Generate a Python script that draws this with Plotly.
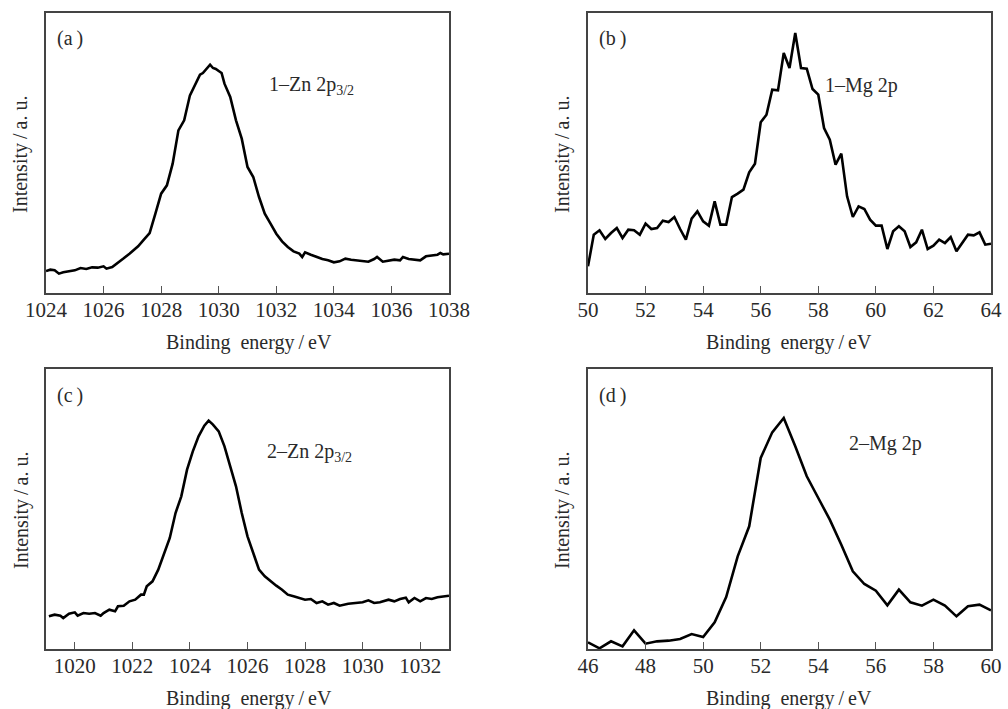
import plotly.graph_objects as go

# ---------------- data ----------------
energy_a = [1024.0, 1024.15, 1024.3, 1024.45, 1024.6, 1024.8, 1025.0, 1025.2, 1025.4, 1025.6, 1025.8,
            1026.0, 1026.1, 1026.3, 1026.5, 1026.7, 1026.9, 1027.0, 1027.2, 1027.4, 1027.6, 1027.8,
            1028.0, 1028.2, 1028.4, 1028.6, 1028.8, 1029.0, 1029.2, 1029.35, 1029.45, 1029.55, 1029.7,
            1029.8, 1029.9, 1030.0, 1030.1, 1030.2, 1030.4, 1030.6, 1030.8, 1031.0, 1031.2, 1031.4,
            1031.6, 1031.8, 1032.0, 1032.2, 1032.4, 1032.6, 1032.8, 1032.9, 1033.0, 1033.2, 1033.4,
            1033.6, 1033.8, 1034.0, 1034.2, 1034.4, 1034.6, 1034.8, 1035.0, 1035.2, 1035.4, 1035.5,
            1035.7, 1035.9, 1036.1, 1036.3, 1036.4, 1036.6, 1036.8, 1037.0, 1037.2, 1037.4, 1037.6,
            1037.7, 1037.8, 1038.0]
intensity_a = [66, 70, 68, 58, 62, 66, 68, 75, 72, 77, 76,
               80, 73, 78, 90, 104, 118, 125, 140, 160, 180, 238,
               298, 323, 388, 488, 518, 593, 628, 655, 660, 670, 685,
               675, 672, 666, 660, 628, 588, 518, 463, 378, 348, 288,
               238, 208, 178, 155, 138, 125, 118, 108, 122, 115, 108,
               102, 98, 92, 95, 103, 100, 98, 96, 94, 102, 108,
               94, 96, 100, 98, 108, 102, 100, 98, 110, 112, 115,
               120, 116, 118]

energy_b = [50.0, 50.2, 50.4, 50.6, 50.8, 51.0, 51.2, 51.4, 51.6, 51.8, 52.0, 52.2, 52.4, 52.6, 52.8,
            53.0, 53.2, 53.4, 53.6, 53.8, 54.0, 54.2, 54.4, 54.6, 54.8, 55.0, 55.2, 55.4, 55.6, 55.8,
            56.0, 56.2, 56.4, 56.6, 56.8, 57.0, 57.2, 57.4, 57.6, 57.8, 58.0, 58.2, 58.4, 58.6, 58.8,
            59.0, 59.2, 59.4, 59.6, 59.8, 60.0, 60.2, 60.4, 60.6, 60.8, 61.0, 61.2, 61.4, 61.6, 61.8,
            62.0, 62.2, 62.4, 62.6, 62.8, 63.0, 63.2, 63.4, 63.6, 63.8, 64.0]
intensity_b = [80, 175, 188, 162, 180, 195, 165, 190, 188, 175, 208, 192, 195, 217, 213,
               228, 192, 160, 223, 245, 215, 202, 275, 205, 205, 288, 298, 310, 362, 388,
               512, 535, 610, 608, 720, 675, 780, 675, 673, 612, 595, 495, 460, 385, 418,
               290, 228, 260, 252, 220, 202, 202, 132, 185, 200, 185, 138, 152, 190, 132,
               142, 160, 150, 168, 125, 152, 175, 173, 182, 145, 148]

energy_c = [1019.1, 1019.3, 1019.5, 1019.6, 1019.8, 1020.0, 1020.1, 1020.3, 1020.5, 1020.7, 1020.9,
            1021.0, 1021.2, 1021.4, 1021.5, 1021.7, 1021.9, 1022.1, 1022.3, 1022.4, 1022.5, 1022.7,
            1022.9, 1023.1, 1023.3, 1023.5, 1023.7, 1023.9, 1024.1, 1024.3, 1024.5, 1024.65, 1024.8,
            1025.0, 1025.2, 1025.4, 1025.6, 1025.8, 1026.0, 1026.2, 1026.4, 1026.6, 1026.8, 1027.0,
            1027.2, 1027.4, 1027.6, 1027.8, 1028.0, 1028.2, 1028.4, 1028.6, 1028.8, 1029.0, 1029.2,
            1029.5, 1029.8, 1030.0, 1030.2, 1030.4, 1030.6, 1030.9, 1031.1, 1031.3, 1031.5, 1031.6,
            1031.8, 1032.0, 1032.2, 1032.4, 1032.6, 1032.8, 1033.0]
intensity_c = [98, 103, 100, 93, 106, 110, 100, 108, 106, 108, 100,
               108, 118, 113, 128, 130, 143, 148, 163, 163, 188, 203,
               238, 288, 333, 408, 458, 538, 593, 638, 670, 685, 673,
               653, 608, 548, 488, 408, 338, 288, 238, 218, 203, 190,
               178, 163, 158, 153, 148, 150, 138, 143, 133, 138, 130,
               136, 138, 140, 146, 138, 140, 148, 143, 150, 154, 140,
               153, 143, 153, 150, 155, 158, 160]

energy_d = [46.0, 46.4, 46.8, 47.2, 47.6, 48.0, 48.4, 48.8, 49.2, 49.6, 50.0, 50.4, 50.8, 51.2,
            51.6, 52.0, 52.4, 52.8, 53.2, 53.6, 54.0, 54.4, 54.8, 55.2, 55.6, 56.0, 56.4, 56.8,
            57.2, 57.6, 58.0, 58.4, 58.8, 59.2, 59.6, 60.0]
intensity_d = [20, 2, 23, 8, 56, 16, 23, 25, 30, 45, 36, 80, 156, 278,
               368, 573, 650, 693, 608, 518, 453, 388, 313, 233, 195, 175, 131, 178,
               140, 130, 148, 130, 98, 128, 133, 116]

xticks_a = [1024, 1026, 1028, 1030, 1032, 1034, 1036, 1038]
xticks_b = [50, 52, 54, 56, 58, 60, 62, 64]
xticks_c = [1020, 1022, 1024, 1026, 1028, 1030, 1032]
xticks_d = [46, 48, 50, 52, 54, 56, 58, 60]

panel_tags = ["(a\u2009)", "(b\u2009)", "(c\u2009)", "(d\u2009)"]
peak_labels = ["1–Zn 2p<sub>3/2</sub>", "1–Mg 2p", "2–Zn 2p<sub>3/2</sub>", "2–Mg 2p"]
x_title = "Binding\u00a0\u00a0energy\u2009/\u2009eV"
y_title = "Intensity\u2009/\u2009a. u."

# ---------------- layout helpers ----------------
W, H = 1008, 709
FONT = "Liberation Serif, Times New Roman, serif"
TXT = "#2a2a2a"


def px(x):
    return x / W


def py(y):
    return 1 - y / H


panels = [
    dict(x0=46, x1=449, y0=13, y1=293, rng=[1024, 1038], ticks=xticks_a, e=energy_a, i=intensity_a),
    dict(x0=588, x1=991, y0=13, y1=293, rng=[50, 64], ticks=xticks_b, e=energy_b, i=intensity_b),
    dict(x0=46, x1=449, y0=369, y1=649, rng=[1019, 1033], ticks=xticks_c, e=energy_c, i=intensity_c),
    dict(x0=588, x1=991, y0=369, y1=649, rng=[46, 60], ticks=xticks_d, e=energy_d, i=intensity_d),
]

fig = go.Figure()
layout = dict(
    template="none",
    width=W, height=H, margin=dict(l=0, r=0, t=0, b=0, pad=0, autoexpand=False),
    paper_bgcolor="white", plot_bgcolor="white", showlegend=False,
    font=dict(family=FONT, size=20, color=TXT),
)
annotations = []

for k, p in enumerate(panels):
    n = "" if k == 0 else str(k + 1)
    xa, ya = "xaxis" + n, "yaxis" + n
    fig.add_trace(go.Scatter(x=p["e"], y=p["i"], mode="lines",
                             line=dict(color="black", width=2.6),
                             xaxis="x" + n, yaxis="y" + n, cliponaxis=True))
    layout[xa] = dict(domain=[px(p["x0"]), px(p["x1"])], range=p["rng"], anchor="y" + n,
                      tickvals=p["ticks"], ticks="inside", ticklen=7, tickwidth=1,
                      tickcolor="#555", showline=True, mirror=True, linecolor="#444",
                      linewidth=1.5, showgrid=False, zeroline=False, automargin=False,
                      ticklabelstandoff=-3,
                      tickfont=dict(family=FONT, size=21, color=TXT))
    layout[ya] = dict(domain=[py(p["y1"]), py(p["y0"])], range=[0, 840], anchor="x" + n,
                      showticklabels=False, ticks="", showline=True, mirror=True,
                      linecolor="#444", linewidth=1.5, showgrid=False, zeroline=False,
                      automargin=False)

tag_pos = [(70, 38), (612, 38), (70, 395), (612, 395)]
peak_pos = [(267, 85), (823, 85), (265, 452), (847, 443)]
xt_pos = [(249, 342), (789, 342), (249, 698), (789, 698)]
yt_pos = [(20, 155), (562, 155), (21, 511), (562, 511)]

for k in range(4):
    annotations.append(dict(text=panel_tags[k], x=px(tag_pos[k][0]), y=py(tag_pos[k][1]),
                            xref="paper", yref="paper", showarrow=False,
                            xanchor="center", yanchor="middle", font=dict(size=20)))
    annotations.append(dict(text=peak_labels[k], x=px(peak_pos[k][0]), y=py(peak_pos[k][1]),
                            xref="paper", yref="paper", showarrow=False,
                            xanchor="left", yanchor="middle", font=dict(size=20)))
    annotations.append(dict(text=x_title, x=px(xt_pos[k][0]), y=py(xt_pos[k][1]),
                            xref="paper", yref="paper", showarrow=False,
                            xanchor="center", yanchor="middle", font=dict(size=20)))
    annotations.append(dict(text=y_title, x=px(yt_pos[k][0]), y=py(yt_pos[k][1]),
                            xref="paper", yref="paper", showarrow=False, textangle=-90,
                            xanchor="center", yanchor="middle", font=dict(size=20)))

layout["annotations"] = annotations
fig.update_layout(**layout)

fig.write_html("out.html", config={"displayModeBar": False},
               post_script="document.body.style.margin='0';")
